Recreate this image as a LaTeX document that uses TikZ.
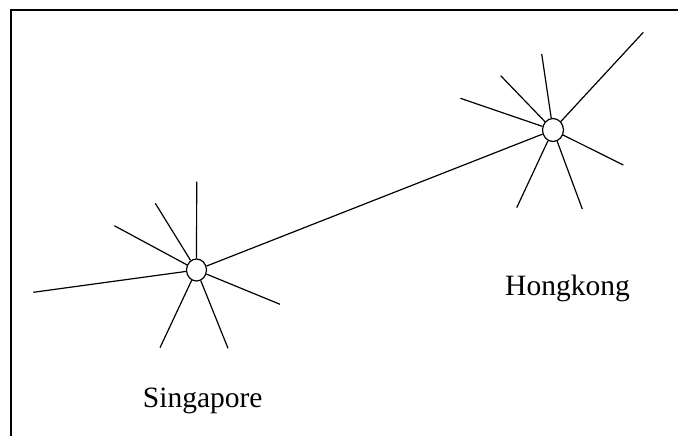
\documentclass[tikz,border=0pt]{standalone}
\usepackage{fontspec}
\setmainfont{Liberation Serif}
\usetikzlibrary{shapes.geometric}

\tikzset{
  hub/.style={draw,ellipse,line width=1.2pt,inner sep=0pt,minimum width=20pt,minimum height=22pt},
  spoke/.style={line width=1.2pt},
  city/.style={inner sep=0pt,anchor=base west,font=\fontsize{29.5}{31}\selectfont}
}

\begin{document}
\begin{tikzpicture}[x=1pt,y=-1pt]
\useasboundingbox (0,0) rectangle (678,436);
\clip (0,0) rectangle (678,436);
\draw[line width=1.3pt] (11,10) rectangle (700,460);

\node[hub] (sg) at (196.5,270) {};
\node[hub,minimum width=21pt,minimum height=23pt] (hk) at (553,130) {};

\coordinate (s1) at (196.7,181.7);
\coordinate (s2) at (155.3,203.3);
\coordinate (s3) at (114.3,225.7);
\coordinate (s4) at (33.3,292.3);
\coordinate (s5) at (160,347.7);
\coordinate (s6) at (228,348.3);
\coordinate (s7) at (280,304.3);

\coordinate (h1) at (541.7,54);
\coordinate (h2) at (500.7,75.7);
\coordinate (h3) at (460.4,98.3);
\coordinate (h4) at (516.7,207.7);
\coordinate (h5) at (582.3,209);
\coordinate (h6) at (623.3,165);
\coordinate (h7) at (643.3,32.3);

\draw[spoke] (sg)--(s1) (sg)--(s2) (sg)--(s3) (sg)--(s4) (sg)--(s5) (sg)--(s6) (sg)--(s7);
\draw[spoke] (hk)--(h1) (hk)--(h2) (hk)--(h3) (hk)--(h4) (hk)--(h5) (hk)--(h6) (hk)--(h7);
\draw[spoke] (sg)--(hk);

\node[city] (sgname) at (142.7,407.7) {Singapore};
\node[city] (hkname) at (505,295) {Hongkong};
\end{tikzpicture}
\end{document}
